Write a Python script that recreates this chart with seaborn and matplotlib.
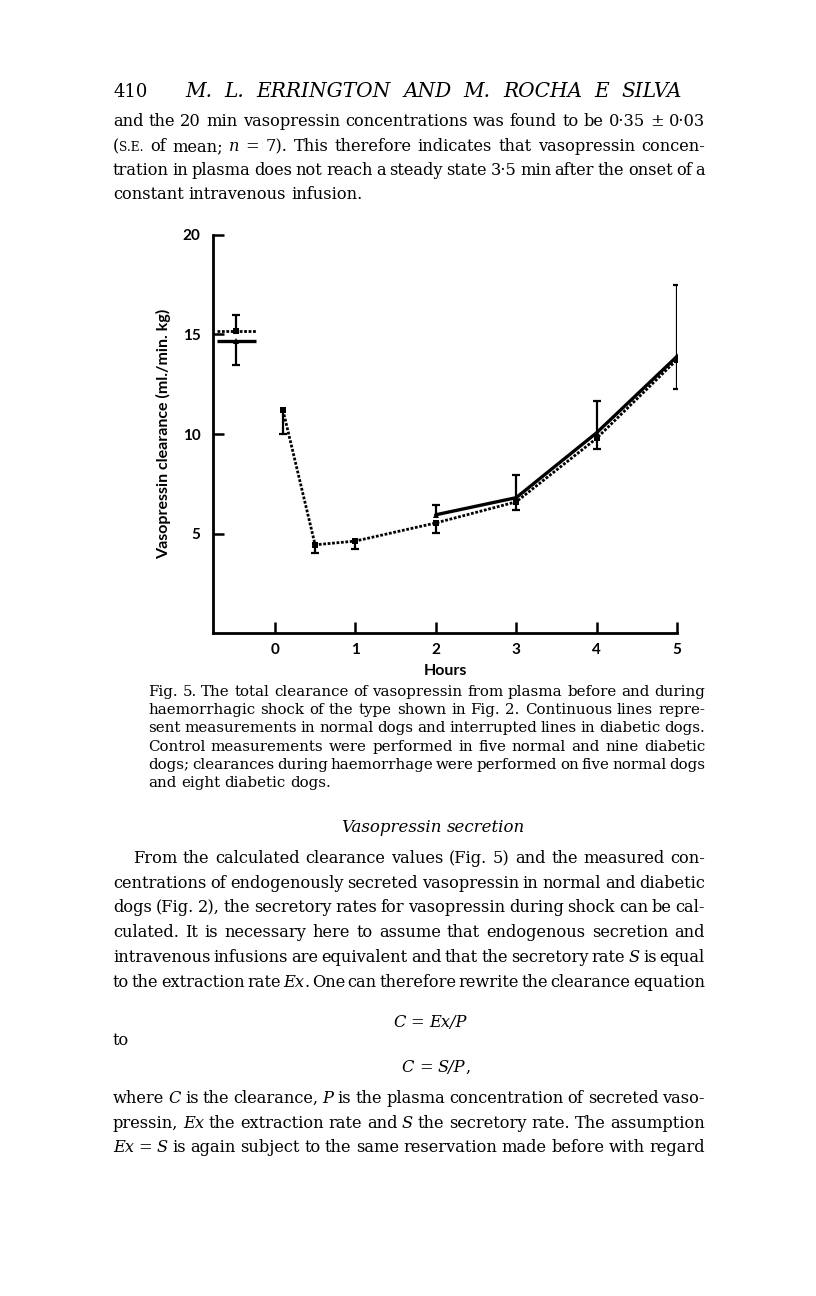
import re
import pandas as pd
import matplotlib
matplotlib.use("Agg")
import matplotlib.pyplot as plt
import seaborn as sns

# ==========================================
# Fig. 5 data
# ==========================================
hours_diabetic = [0.1, 0.5, 1, 2, 3, 4, 5]
clear_diabetic = [11.2, 4.43, 4.62, 5.53, 6.59, 9.78, 13.74]
se_diabetic = [1.22, 0.43, 0.41, 0.51, 0.42, 0.55, 1.46]      # bars drawn downwards
hours_normal = [2, 3, 4, 5]
clear_normal = [5.94, 6.80, 10.06, 13.90]
se_normal = [0.48, 1.12, 1.62, 3.59]                           # bars drawn upwards

control_x = -0.48
control_span = [-0.72, -0.23]
control_diabetic, control_diabetic_se = 15.19, 0.78            # bar up
control_normal, control_normal_se = 14.69, 1.20                # bar down

x_ticks = [0, 1, 2, 3, 4, 5]
y_ticks = [5, 10, 15, 20]

# ==========================================
# page text
# ==========================================
running_head = "M. L. ERRINGTON AND M. ROCHA E SILVA"
page_no = "410"
para1 = [
    "and the 20 min vasopressin concentrations was found to be 0·35 ± 0·03",
    "({sc:s.e.} of mean; {i:n} = 7). This therefore indicates that vasopressin concen-",
    "tration in plasma does not reach a steady state 3·5 min after the onset of a",
    "constant intravenous infusion.",
]
caption = [
    "Fig. 5. The total clearance of vasopressin from plasma before and during",
    "haemorrhagic shock of the type shown in Fig. 2. Continuous lines repre-",
    "sent measurements in normal dogs and interrupted lines in diabetic dogs.",
    "Control measurements were performed in five normal and nine diabetic",
    "dogs; clearances during haemorrhage were performed on five normal dogs",
    "and eight diabetic dogs.",
]
heading = "Vasopressin secretion"
para2 = [
    "From the calculated clearance values (Fig. 5) and the measured con-",
    "centrations of endogenously secreted vasopressin in normal and diabetic",
    "dogs (Fig. 2), the secretory rates for vasopressin during shock can be cal-",
    "culated. It is necessary here to assume that endogenous secretion and",
    "intravenous infusions are equivalent and that the secretory rate {i:S} is equal",
    "to the extraction rate {i:Ex}. One can therefore rewrite the clearance equation",
]
eq1 = "{i:C} = {i:Ex/P}"
eq2 = "{i:C} = {i:S/P},"
para3 = [
    "where {i:C} is the clearance, {i:P} is the plasma concentration of secreted vaso-",
    "pressin, {i:Ex} the extraction rate and {i:S} the secretory rate. The assumption",
    "{i:Ex} = {i:S} is again subject to the same reservation made before with regard",
]

W, H = 816, 1296
SERIF = "DejaVu Serif"
SANS = "Lato"
BODY = 11.7

sns.set_style("ticks")
plt.rcParams['font.family'] = [SERIF]
for key in ["text.color", "axes.labelcolor", "xtick.color", "ytick.color", "axes.edgecolor"]:
    plt.rcParams[key] = "black"

fig = plt.figure(figsize=(W / 100, H / 100), dpi=100)
renderer = fig.canvas.get_renderer()

TOKEN = re.compile(r'\{(i|sc):([^}]*)\}|([^{]+)')


def put_line(line, y, x0=113, x1=705, size=BODY, mode="justify", base_style="normal", cx=433):
    words = []
    for w in line.split(" "):
        segs = []
        for m in TOKEN.finditer(w):
            if m.group(3):
                t = fig.text(0, 0, m.group(3), fontsize=size, style=base_style)
            elif m.group(1) == "i":
                t = fig.text(0, 0, m.group(2), fontsize=size, style="italic")
            else:
                t = fig.text(0, 0, m.group(2).upper(), fontsize=size * 0.75)
            segs.append(t)
        widths = [t.get_window_extent(renderer).width for t in segs]
        words.append((segs, widths))
    total = sum(sum(ws) for _, ws in words)
    space = 0.3 * size * 100 / 72
    n = len(words)
    if mode == "justify" and n > 1:
        gap = (x1 - x0 - total) / (n - 1)
        start = x0
    elif mode == "center":
        gap = space
        start = cx - (total + gap * (n - 1)) / 2
    else:
        gap = space
        start = x0
    x = start
    for segs, ws in words:
        for t, wd in zip(segs, ws):
            t.set_position((x / W, 1 - y / H))
            t.set_va("baseline")
            t.set_ha("left")
            x += wd
        x += gap


# header
fig.text(113 / W, 1 - 97 / H, page_no, fontsize=13, va="baseline", ha="left")
put_line(running_head, 97, x0=185, x1=682, size=14.5, base_style="italic")

for line, y in zip(para1, [126, 151, 175, 199]):
    put_line(line, y, mode="justify" if line != para1[-1] else "left")

# ==========================================
# the chart
# ==========================================
ax = fig.add_axes([213 / W, 1 - 633 / H, (677 - 213) / W, (633 - 235) / H])

dotted = (0, (1, 0.6))
df_d = pd.DataFrame({"Hours": hours_diabetic, "Clearance": clear_diabetic})
df_n = pd.DataFrame({"Hours": hours_normal, "Clearance": clear_normal})
sns.lineplot(data=df_d, x="Hours", y="Clearance", ax=ax, color="black", linewidth=2.0,
             linestyle=dotted, marker="s", markersize=5, markeredgewidth=0)
sns.lineplot(data=df_n, x="Hours", y="Clearance", ax=ax, color="black", linewidth=2.4,
             linestyle="-", marker="^", markersize=5, markeredgewidth=0)

# error bars: diabetic downwards, normal upwards
low_d = [v - e for v, e in zip(clear_diabetic, se_diabetic)]
high_n = [v + e for v, e in zip(clear_normal, se_normal)]
ax.vlines(hours_diabetic, low_d, clear_diabetic, color="black", linewidth=1.6)
ax.plot(hours_diabetic, low_d, linestyle="none", marker="_", markersize=6, mew=1.6, color="black")
ax.vlines(hours_normal, clear_normal, high_n, color="black", linewidth=1.6)
ax.plot(hours_normal, high_n, linestyle="none", marker="_", markersize=6, mew=1.6, color="black")

# control values before haemorrhage
ax.hlines(control_diabetic, *control_span, color="black", linewidth=2.0, linestyle=dotted)
ax.hlines(control_normal, *control_span, color="black", linewidth=2.4)
ax.plot([control_x], [control_diabetic], marker="s", markersize=5, mew=0, color="black")
ax.plot([control_x], [control_normal], marker="^", markersize=5, mew=0, color="black")
ax.vlines(control_x, control_diabetic, control_diabetic + control_diabetic_se, color="black", linewidth=1.6)
ax.plot([control_x], [control_diabetic + control_diabetic_se], marker="_", markersize=6, mew=1.6, color="black")
ax.vlines(control_x, control_normal - control_normal_se, control_normal, color="black", linewidth=1.6)
ax.plot([control_x], [control_normal - control_normal_se], marker="_", markersize=6, mew=1.6, color="black")

ax.set_xlim(-0.77, 5.0)
ax.set_ylim(0, 20)
ax.set_xticks(x_ticks)
ax.set_yticks(y_ticks)
ax.tick_params(direction="in", length=8, width=1.8, labelsize=11, pad=7)
ax.tick_params(axis="y", pad=9)
for lbl in ax.get_xticklabels() + ax.get_yticklabels():
    lbl.set_fontfamily(SANS)
    lbl.set_fontweight("bold")
sns.despine(ax=ax)
for side in ["left", "bottom"]:
    ax.spines[side].set_linewidth(2.0)
ax.set_xlabel("Hours", fontfamily=SANS, fontsize=11.5, fontweight="bold", labelpad=5)
ax.set_ylabel("Vasopressin clearance (ml./min. kg)", fontfamily=SANS, fontsize=11.5,
              fontweight="bold", labelpad=8)
ax.set_facecolor("none")

# ==========================================
# caption and following text
# ==========================================
for i, (line, y) in enumerate(zip(caption, [696, 714, 732, 751, 769, 787])):
    put_line(line, y, x0=148, x1=705, size=10.8,
             mode="left" if i == len(caption) - 1 else "justify")

put_line(heading, 832, size=12, mode="center", base_style="italic")

for i, (line, y) in enumerate(zip(para2, [863, 888, 912, 937, 962, 987])):
    put_line(line, y, x0=133 if i == 0 else 113, mode="justify")

put_line(eq1, 1027, mode="center", cx=430)
put_line("to", 1045, mode="left")
put_line(eq2, 1072, mode="center", cx=436)

for line, y in zip(para3, [1103, 1128, 1152]):
    put_line(line, y, mode="justify")

fig.savefig("out.png", dpi=100, facecolor="white")
